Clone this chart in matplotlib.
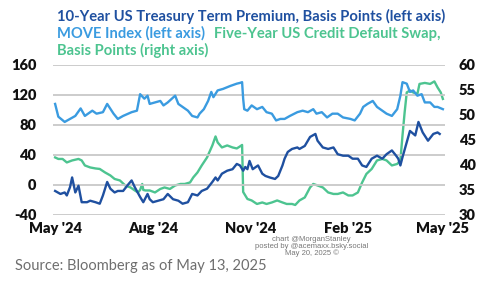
import matplotlib
matplotlib.use("Agg")
import matplotlib.pyplot as plt
import matplotlib.dates as mdates
import pandas as pd
import numpy as np

start = pd.Timestamp("2024-05-13")

# MOVE Index (left axis): day offset from start, value
move_days = [0, 3, 9, 14, 19, 24, 28, 35, 39, 45, 49, 55, 59, 64, 72, 77, 80, 84, 87, 89, 94, 99, 102, 106,
             113, 116, 120, 125, 129, 134, 136, 140, 144, 147, 149, 153, 158, 165, 171, 174, 176, 177, 178,
             181, 185, 190, 195, 199, 204, 208, 212, 216, 221, 228, 233, 238, 243, 246, 251, 256, 261, 266,
             271, 278, 282, 287, 290, 294, 299, 303, 308, 312, 317, 322, 325, 327, 331, 334, 337, 341, 345,
             348, 353, 357, 360, 365]
move_vals = [108, 91, 84, 88, 92, 102, 92, 99, 95, 97, 108, 95, 88, 92, 97, 99, 121, 115, 119, 108, 110, 112, 106, 110,
             119, 108, 104, 99, 92, 90, 95, 101, 112, 124, 117, 126, 128, 132, 135, 136, 137, 115, 101,
             99, 106, 101, 104, 97, 95, 86, 88, 88, 92, 97, 99, 97, 101, 95, 97, 90, 95, 95,
             90, 88, 86, 95, 104, 108, 112, 104, 99, 95, 92, 101, 119, 137, 135, 124, 126, 119, 121,
             110, 110, 104, 104, 101]

# 10-Year US Treasury Term Premium (left axis)
tp_days = [0, 5, 9, 11, 14, 16, 19, 22, 25, 30, 33, 38, 42, 45, 49, 52, 56, 59, 64, 69, 72, 75, 80, 83, 87, 89,
           92, 97, 102, 106, 111, 116, 120, 125, 129, 134, 138, 143, 148, 151, 153, 157, 162, 167, 171, 174,
           177, 179, 181, 183, 186, 191, 195, 198, 202, 207, 210, 214, 216, 219, 223, 228, 230, 235, 240, 245,
           247, 252, 257, 262, 266, 271, 276, 280, 285, 289, 293, 298, 303, 308, 312, 317, 321, 323, 325, 327,
           331, 334, 339, 342, 346, 351, 356, 360, 362]
tp_vals = [-8, -12, -10, -14, -3, 10, -10, -1, -23, -23, -21, -23, -25, -14, 4, -5, -10, -8, -8, 1, 6, -3, -16, -23, -12, -19,
           -23, -21, -19, -12, -19, -21, -25, -23, -12, -14, -8, -5, 4, 10, 6, 15, 19, 21, 28, 26,
           19, 24, 21, 32, 21, 26, 15, 12, 10, 8, 12, 26, 35, 44, 48, 50, 48, 52, 64, 68,
           59, 50, 48, 50, 41, 39, 39, 35, 35, 26, 24, 35, 39, 35, 41, 46, 39, 35, 26, 37,
           57, 72, 66, 84, 70, 59, 68, 70, 68]

# Five-Year US CDS, basis points (right axis)
cds_days = [0, 3, 7, 11, 16, 22, 25, 28, 33, 38, 42, 47, 52, 56, 61, 66, 71, 75, 78, 80, 82, 83, 85, 89, 94, 99,
            103, 108, 113, 118, 122, 127, 130, 134, 138, 143, 148, 151, 153, 157, 162, 167, 171, 174, 176, 177,
            181, 185, 190, 195, 199, 204, 209, 214, 218, 223, 226, 230, 235, 240, 243, 247, 252, 257, 262, 266,
            271, 276, 280, 285, 289, 293, 298, 303, 308, 312, 317, 322, 325, 327, 329, 331, 334, 337, 341, 343,
            348, 353, 357, 360, 363, 365]
cds_vals = [41.5, 41.2, 41.2, 40.5, 40.9, 41.2, 40.9, 39.9, 39.5, 39.3, 39.2, 38.5, 37.9, 37.2, 36.9, 35.9, 35.5, 34.9,
            34.5, 35.0, 36.2, 35.0, 34.9, 34.9, 34.5, 35.2, 35.5, 35.2, 35.9, 36.2, 36.2, 36.5, 37.5, 38.5, 39.9,
            41.5, 43.9, 45.7, 44.5, 43.5, 43.9, 43.5, 43.3, 43.7, 44.0, 34.6, 33.2, 32.9, 32.2, 32.5, 32.2, 32.5,
            32.9, 32.5, 32.2, 32.2, 32.0, 32.9, 33.5, 35.5, 36.2, 35.9, 35.5, 34.5, 34.2, 34.2, 34.5, 33.9, 33.9,
            34.5, 36.5, 38.2, 39.2, 40.9, 41.2, 40.9, 39.9, 40.2, 40.9, 45.9, 50.5, 54.5, 54.9, 54.5, 54.2, 56.2,
            56.4, 56.2, 56.7, 55.5, 54.5, 53.2]

left_ticks = [-40, 0, 40, 80, 120, 160]
right_ticks = [30, 35, 40, 45, 50, 55, 60]
x_ticks = ["2024-05-13", "2024-08-13", "2024-11-13", "2025-02-13", "2025-05-13"]
x_labels = ["May '24", "Aug '24", "Nov '24", "Feb '25", "May '25"]

C_DARK = "#1f50a0"
C_LIGHT = "#3a9be0"
C_GREEN = "#4dc490"

def to_dates(days):
    return [start + pd.Timedelta(days=int(d)) for d in days]

FONT = ["Lato", "DejaVu Sans"]
plt.rcParams['font.family'] = FONT
plt.rcParams['axes.unicode_minus'] = False

fig = plt.figure(figsize=(5.0, 2.81), dpi=100)
ax = fig.add_axes([0.106, 0.235, 0.784, 0.534])
ax2 = ax.twinx()

ax.plot(to_dates(move_days), move_vals, color=C_LIGHT, lw=1.7, zorder=3)
ax.plot(to_dates(tp_days), tp_vals, color=C_DARK, lw=1.7, zorder=4)
ax2.plot(to_dates(cds_days), cds_vals, color=C_GREEN, lw=1.7)

ax.set_ylim(-40, 160)
ax2.set_ylim(30, 60)
ax.set_xlim(start - pd.Timedelta(days=2), start + pd.Timedelta(days=367))
ax.set_yticks(left_ticks)
ax2.set_yticks(right_ticks)
ax.set_xticks([pd.Timestamp(t) for t in x_ticks])
ax.set_xticklabels(x_labels)
ax.grid(axis='y', color="#c8c8c8", lw=1.3)
ax.set_axisbelow(True)
ax.set_zorder(ax2.get_zorder() + 1)
ax.patch.set_visible(False)

for a in (ax, ax2):
    for s in a.spines.values():
        s.set_visible(False)
    a.tick_params(length=0, labelsize=10.5, labelcolor="#111111")
    for lab in a.get_yticklabels() + a.get_xticklabels():
        lab.set_fontweight("heavy")
ax.tick_params(axis='y', pad=12)
ax2.tick_params(axis='y', pad=10)
ax.tick_params(axis='x', pad=5)

fig.text(0.114, 0.925, "10-Year US Treasury Term Premium, Basis Points (left axis)", color=C_DARK,
         fontsize=10.6, fontweight="bold", va="baseline")
fig.text(0.114, 0.865, "MOVE Index (left axis)", color=C_LIGHT, fontsize=10.6, fontweight="bold",
         va="baseline")
fig.text(0.428, 0.865, "Five-Year US Credit Default Swap,", color=C_GREEN, fontsize=10.6, fontweight="bold",
         va="baseline")
fig.text(0.114, 0.805, "Basis Points (right axis)", color=C_GREEN, fontsize=10.6, fontweight="bold",
         va="baseline")

fig.text(0.03, 0.04, "Source: Bloomberg as of May 13, 2025", color="#6e6e6e", fontsize=10.5, fontweight="normal")
fig.text(0.623, 0.085, "chart @MorganStanley\nposted by @acemaxx.bsky.social\nMay 20, 2025 ©",
         ha="center", va="bottom", fontsize=5.5, color="#777777", family=["Liberation Sans", "DejaVu Sans"],
         linespacing=0.95)

fig.savefig("out.png", dpi=100, facecolor="white")
